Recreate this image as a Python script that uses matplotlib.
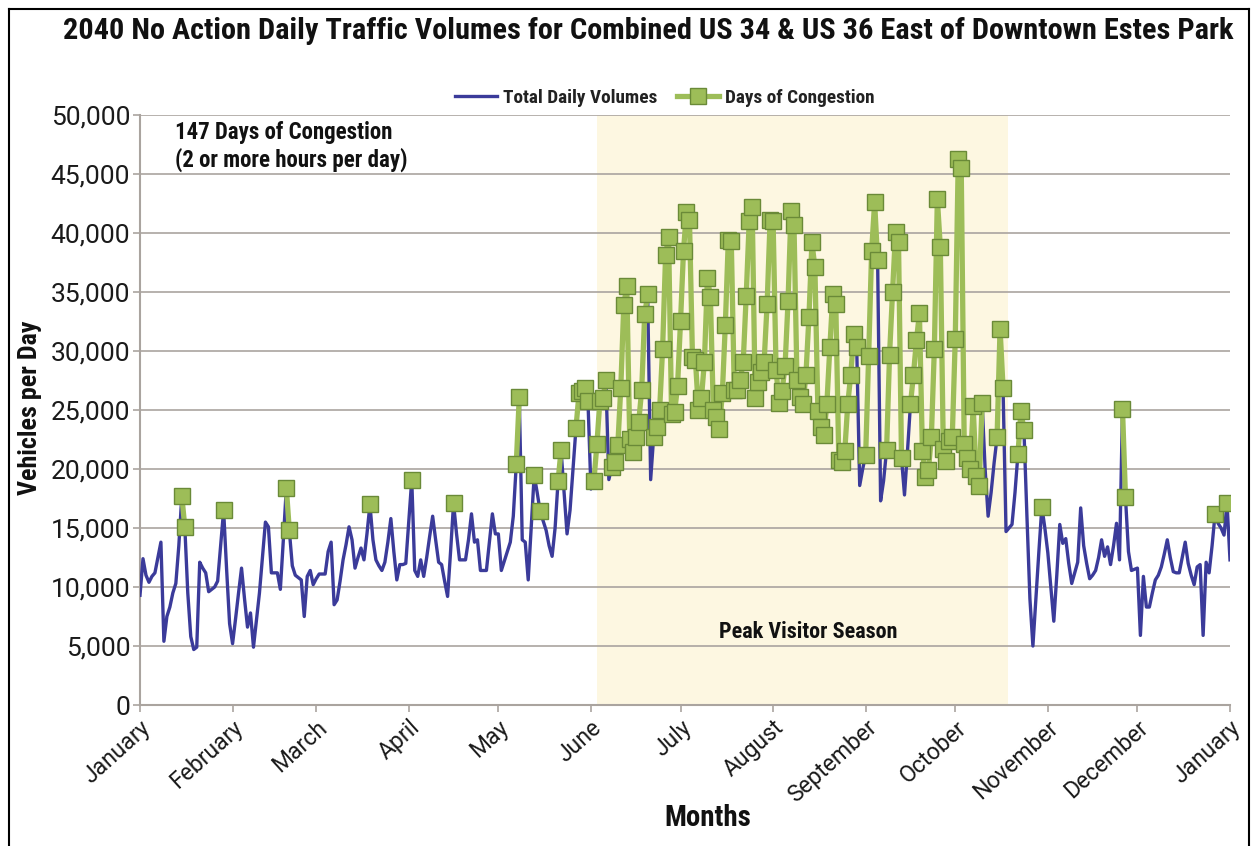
import numpy as np
import matplotlib
matplotlib.use('Agg')
import matplotlib.pyplot as plt
from matplotlib.lines import Line2D

# daily volumes in thousands of vehicles, one list per month
vol_jan = [9.3, 12.4, 11.0, 10.4, 10.9, 11.2, 12.5, 13.8, 5.4, 7.5,
           8.3, 9.5, 10.3, 13.5, 17.7, 15.1, 9.5, 5.8, 4.7, 4.9,
           12.1, 11.6, 11.2, 9.6, 9.8, 10.0, 10.5, 13.5, 16.5, 11.5, 6.9]
vol_feb = [5.2, 7.3, 9.5, 11.6, 9.0, 6.6, 7.8, 4.9, 7.2, 9.5,
           12.5, 15.5, 15.1, 11.2, 11.2, 11.2, 9.8, 14.0, 18.4, 14.8,
           11.8, 11.0, 10.8, 10.6, 7.5, 10.9, 11.4, 10.2]
vol_mar = [10.7, 11.1, 11.1, 11.1, 13.0, 13.8, 8.5, 8.9, 10.5, 12.3,
           13.6, 15.1, 14.0, 11.6, 12.5, 13.3, 12.3, 14.5, 17.0, 14.0,
           12.3, 11.8, 11.4, 12.1, 13.8, 15.8, 13.0, 10.6, 11.9, 11.9, 12.0]
vol_apr = [15.5, 19.1, 11.4, 10.9, 12.3, 10.9, 12.5, 14.3, 16.0, 14.0,
           12.1, 11.9, 10.5, 9.2, 13.0, 17.1, 14.5, 12.3, 12.3, 12.3,
           14.0, 16.2, 13.8, 14.0, 11.4, 11.4, 11.4, 13.8, 16.2, 14.5]
vol_may = [14.5, 11.4, 12.2, 13.0, 13.8, 16.0, 20.4, 26.1, 14.0, 13.8,
           10.6, 15.0, 19.5, 18.0, 16.4, 15.6, 14.8, 13.5, 12.6, 15.0,
           19.0, 21.6, 18.0, 14.5, 16.5, 20.0, 23.5, 26.4, 26.6, 26.9, 25.8]
vol_jun = [18.3, 19.0, 22.1, 25.8, 26.0, 27.5, 19.1, 20.2, 20.6, 22.0,
           26.9, 33.9, 35.5, 22.5, 21.4, 22.7, 24.0, 26.7, 33.1, 34.8,
           19.1, 22.7, 23.6, 25.0, 30.2, 38.1, 39.7, 24.7, 24.8, 27.0]
vol_jul = [32.5, 38.5, 41.8, 41.1, 29.5, 29.2, 25.0, 26.0, 29.1, 36.2,
           34.6, 25.0, 24.4, 23.4, 26.4, 32.2, 39.4, 39.3, 26.7, 26.7,
           27.5, 29.1, 34.7, 41.0, 42.2, 26.0, 27.4, 28.2, 29.1, 34.0, 41.1]
vol_aug = [41.0, 28.4, 25.6, 26.6, 28.7, 34.2, 41.9, 40.7, 27.5, 26.1,
           25.5, 28.0, 32.9, 39.2, 37.1, 24.9, 23.6, 22.9, 25.5, 30.3,
           34.8, 34.0, 20.8, 20.6, 21.5, 25.5, 28.0, 31.4, 30.3, 18.6, 20.0]
vol_sep = [21.2, 29.6, 38.5, 42.6, 37.7, 17.3, 19.0, 21.6, 29.7, 35.0,
           40.1, 39.2, 20.9, 17.8, 21.5, 25.5, 28.0, 30.9, 33.2, 21.5,
           19.3, 19.9, 22.7, 30.2, 42.9, 38.8, 21.7, 20.7, 22.4, 22.7]
vol_oct = [31.0, 46.3, 45.5, 22.1, 20.9, 20.0, 25.3, 19.4, 18.6, 25.6,
           20.0, 16.0, 18.0, 20.5, 22.7, 31.9, 26.9, 14.7, 15.0, 15.3,
           18.0, 21.3, 24.9, 23.3, 16.0, 9.0, 5.0, 9.0, 13.0, 16.8, 15.0]
vol_nov = [12.9, 10.0, 7.1, 11.0, 15.3, 13.7, 14.1, 12.0, 10.3, 11.2,
           12.1, 16.7, 13.5, 12.0, 10.7, 11.0, 11.4, 12.5, 14.0, 12.6,
           13.4, 11.9, 13.5, 15.4, 12.3, 25.1, 17.6, 13.0, 11.4, 11.5]
vol_dec = [11.6, 5.9, 10.9, 8.3, 8.3, 9.5, 10.6, 11.0, 11.7, 12.8,
           14.0, 12.5, 11.3, 11.2, 11.2, 12.5, 13.8, 12.0, 11.0, 10.2,
           11.7, 11.9, 5.9, 12.1, 11.2, 13.5, 16.2, 15.4, 15.0, 14.4, 17.1]
vol_next_jan = [12.3]

month_names = ['January', 'February', 'March', 'April', 'May', 'June', 'July',
               'August', 'September', 'October', 'November', 'December', 'January']
month_starts = [0, 31, 59, 90, 120, 151, 181, 212, 243, 273, 304, 334, 365]

# congested days (day of year, 0 = Jan 1)
congested_off_season = [14, 15, 28, 49, 50, 77, 91, 105, 126, 127, 132, 134,
                        140, 141, 146, 147, 148, 149, 150, 302, 329, 330, 360, 364]
peak_congested = (152, 296)
peak_clear_days = [157, 171, 241, 242, 248, 249, 256, 257, 283, 284, 285, 286,
                   290, 291, 292, 293]

peak_season = (153.0, 290.7)

volumes = np.array(vol_jan + vol_feb + vol_mar + vol_apr + vol_may + vol_jun +
                   vol_jul + vol_aug + vol_sep + vol_oct + vol_nov + vol_dec +
                   vol_next_jan) * 1000
days = np.arange(len(volumes))

congested = np.zeros(len(volumes), dtype=bool)
congested[congested_off_season] = True
congested[peak_congested[0]:peak_congested[1] + 1] = True
congested[peak_clear_days] = False
cong_vol = np.where(congested, volumes, np.nan)

NARROW = ['Roboto Condensed', 'Liberation Sans Narrow', 'DejaVu Sans']
PLAIN = ['Roboto', 'Liberation Sans', 'DejaVu Sans']
plt.rcParams['font.family'] = ['Liberation Sans', 'DejaVu Sans']

W, H = 1255, 846
fig = plt.figure(figsize=(W / 100, H / 100), dpi=100)
ax = fig.add_axes([140 / W, 1 - 705 / H, 1090 / W, 590 / H])

grid_col = '#aaa49f'
ax.axvspan(*peak_season, color='#fdf7e1', lw=0, zorder=0)
ax.set_axisbelow(True)
ax.yaxis.grid(True, color=grid_col, lw=1.2)

ax.plot(days, volumes, color='#3b3b9a', lw=2.4, zorder=3,
        label='Total Daily Volumes')
ax.plot(days, cong_vol, color='#9dbd58', lw=3.8, marker='s', ms=11.5,
        mfc='#9dbd58', mec='#6a8a38', mew=1.0, zorder=4,
        label='Days of Congestion')

ax.set_xlim(0, 365)
ax.set_ylim(0, 50000)
yt = np.arange(0, 50001, 5000)
ax.set_yticks(yt)
ax.set_yticklabels(['{:,}'.format(v) for v in yt])
ax.set_xticks(month_starts)
ax.set_xticklabels(month_names, rotation=42, ha='right', va='top',
                   rotation_mode='anchor')

for s in ['top', 'right']:
    ax.spines[s].set_visible(False)
for s in ['left', 'bottom']:
    ax.spines[s].set_color(grid_col)
    ax.spines[s].set_linewidth(1.5)
ax.tick_params(axis='both', color=grid_col, length=5, width=1.2)
ax.tick_params(axis='y', labelsize=19, pad=2, labelcolor='#1a1a1a')
ax.tick_params(axis='x', labelsize=16.5, pad=3, labelcolor='#1a1a1a')
for lab in ax.get_xticklabels() + ax.get_yticklabels():
    lab.set_family(PLAIN)

renderer = fig.canvas.get_renderer()


def fit(txt, width=None, height=None):
    bb = txt.get_window_extent(renderer=renderer)
    scale = width / bb.width if width else height / bb.height
    txt.set_fontsize(txt.get_fontsize() * scale)
    return txt


bold = dict(weight='bold', family=NARROW, color='#111111')

fit(fig.text(648 / W, 1 - 31 / H,
             '2040 No Action Daily Traffic Volumes for Combined US 34 & US 36 '
             'East of Downtown Estes Park',
             ha='center', va='center', fontsize=14, **bold), width=1176)

fit(fig.text(30 / W, 1 - 408 / H, 'Vehicles per Day', rotation=90,
             ha='center', va='center', fontsize=14, **bold), height=175)

fit(fig.text(708 / W, 1 - 818 / H, 'Months', ha='center', va='center',
             fontsize=14, **bold), width=87)

fit(fig.text(175 / W, 1 - 121 / H,
             '147 Days of Congestion\n(2 or more hours per day)',
             ha='left', va='top', linespacing=1.2, fontsize=14, **bold),
    width=233)

fit(fig.text(808 / W, 1 - 632 / H, 'Peak Visitor Season', ha='center',
             va='center', fontsize=14, **bold), width=180)

# legend size taken from the width of its first label
tmp = fit(fig.text(0, 0, 'Total Daily Volumes', fontsize=10, **bold), width=154)
fs = tmp.get_fontsize()
tmp.remove()
px = fs * 100 / 72
leg = fig.legend(loc='center', bbox_to_anchor=(665 / W, 1 - 98 / H), ncol=2,
                 frameon=False, prop={'family': NARROW, 'weight': 'bold', 'size': fs},
                 handlelength=42 / px, handletextpad=6 / px, columnspacing=20 / px)
for t in leg.get_texts():
    t.set_color('#222222')

# outer frame of the picture
left, top, right = 9 / W, 1 - 9 / H, 1249 / W
for xs, ys in [([left, left], [0, top]), ([left, right], [top, top]),
               ([right, right], [0, top])]:
    fig.add_artist(Line2D(xs, ys, transform=fig.transFigure, color='black', lw=1.5))

fig.savefig('out.png', dpi=100)
